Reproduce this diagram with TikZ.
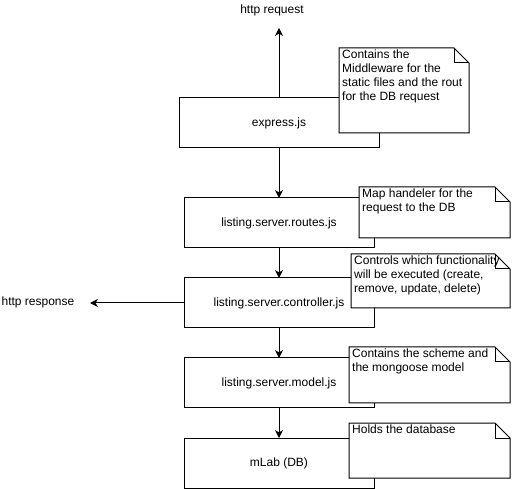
\documentclass[tikz,border=0pt]{standalone}
\usepackage{fontspec}
\setmainfont{Liberation Sans}
\usetikzlibrary{arrows.meta,positioning}

\newcommand{\notefold}[1]{%
  \draw[line width=1pt] (#1.north west) -- ([xshift=-15pt]#1.north east) -- ([yshift=-15pt]#1.north east) -- (#1.south east) -- (#1.south west) -- cycle;
  \draw[line width=1pt] ([xshift=-15pt]#1.north east) |- ([yshift=-15pt]#1.north east);}

\begin{document}
\begin{tikzpicture}[x=1pt,y=1pt,
  font=\fontsize{12}{14}\selectfont,
  box/.style={draw,line width=1pt,minimum width=190pt,minimum height=50pt,inner sep=0pt,outer sep=0pt},
  note/.style={fill=white,anchor=north west,inner sep=0pt,outer sep=0pt},
  notetext/.style={anchor=north west,align=left,inner xsep=3pt,inner ysep=2pt},
  arrow/.style={-{Stealth[length=8pt,width=8pt,inset=2.5pt]},line width=1pt}
]
\useasboundingbox (0,0) rectangle (512,-489);
\node[box,minimum width=200pt] (express) at (279,-123) {express.js};
\node[box,below=50pt of express] (routes) {listing.server.routes.js};
\node[box,below=30pt of routes] (controller) {listing.server.controller.js};
\node[box,below=30pt of controller] (model) {listing.server.model.js};
\node[box,below=30pt of model] (mlab) {mLab (DB)};

\node[note,minimum width=130pt,minimum height=85pt,label={[notetext]north west:{Contains the\\Middleware for the\\static files and the rout\\for the DB request}}] (expressnote) at (339,-48) {};
\node[note,minimum width=151pt,minimum height=51pt,label={[notetext]north west:{Map handeler for the\\request to the DB}}] (routesnote) at (359,-187) {};
\node[note,minimum width=159pt,minimum height=54pt,label={[notetext]north west:{Controls which functionality\\will be executed (create,\\remove, update, delete)}}] (controllernote) at (351,-254) {};
\node[note,minimum width=161pt,minimum height=56pt,label={[notetext]north west:{Contains the scheme and\\the mongoose model}}] (modelnote) at (349,-347) {};
\node[note,minimum width=161pt,minimum height=55pt,label={[notetext]north west:{Holds the database}}] (mlabnote) at (349,-423) {};
\notefold{expressnote}
\notefold{routesnote}
\notefold{controllernote}
\notefold{modelnote}
\notefold{mlabnote}

\node (request) at (272,-10) {http request};
\coordinate (requestend) at (279,-28);
\node (response) at (38,-302) {http response};
\coordinate (responseend) at (90,-303);

\draw[arrow] (express) -- (requestend);
\draw[arrow] (express) -- (routes);
\draw[arrow] (routes) -- (controller);
\draw[arrow] (controller) -- (responseend);
\draw[arrow] (controller) -- (model);
\draw[arrow] (model) -- (mlab);
\end{tikzpicture}
\end{document}
